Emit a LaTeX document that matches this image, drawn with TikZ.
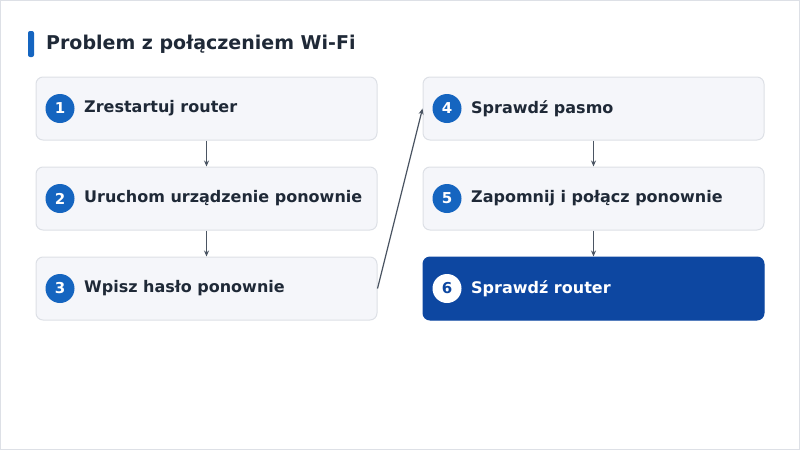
\documentclass[tikz,border=0pt]{standalone}
\usepackage{fontspec}
\setmainfont{DejaVu Sans}
\usetikzlibrary{arrows.meta}
\definecolor{boxfill}{HTML}{F5F6FA}
\definecolor{boxline}{HTML}{DDE0E6}
\definecolor{accent}{HTML}{1565C0}
\definecolor{dark}{HTML}{0D47A1}
\definecolor{txt}{HTML}{1F2937}
\definecolor{arr}{HTML}{4B5563}
\begin{document}
\begin{tikzpicture}[x=1pt,y=-1pt,
  box/.style={draw=boxline,fill=boxfill,rounded corners=7pt,line width=1pt,minimum width=341pt,minimum height=63pt,inner sep=0pt},
  num/.style={circle,fill=accent,text=white,minimum size=29pt,inner sep=0pt,font=\bfseries\fontsize{15}{18}\selectfont},
  lbl/.style={anchor=west,text=txt,font=\bfseries\fontsize{16}{19}\selectfont,inner sep=0pt},
  con/.style={draw=arr,line width=1.2pt,-{Stealth[length=6pt,width=5pt]}}]
\useasboundingbox (0,0) rectangle (800,450);
\draw[boxline,line width=1pt] (0.5,0.5) rectangle (799.5,449.5);
\fill[accent,rounded corners=2pt] (28,31) rectangle (34,57);
\node[anchor=west,inner sep=0pt,text=txt,font=\bfseries\fontsize{19}{22}\selectfont] (title) at (46,44) {Problem z połączeniem Wi-Fi};
\node[box] (b1) at (206.5,108.5) {};
\node[box] (b2) at (206.5,198.5) {};
\node[box] (b3) at (206.5,288.5) {};
\node[box] (b4) at (593.5,108.5) {};
\node[box] (b5) at (593.5,198.5) {};
\node[box,fill=dark,draw=dark] (b6) at (593.5,288.5) {};
\node[num] (n1) at (60,108.5) {1};
\node[num] (n2) at (60,198.5) {2};
\node[num] (n3) at (60,288.5) {3};
\node[num] (n4) at (447,108.5) {4};
\node[num] (n5) at (447,198.5) {5};
\node[num,fill=white,text=dark] (n6) at (447,288.5) {6};
\node[lbl] (t1) at (84,108.5) {Zrestartuj router};
\node[lbl] (t2) at (84,198.5) {Uruchom urządzenie ponownie};
\node[lbl] (t3) at (84,288.5) {Wpisz hasło ponownie};
\node[lbl] (t4) at (471,108.5) {Sprawdź pasmo};
\node[lbl] (t5) at (471,198.5) {Zapomnij i połącz ponownie};
\node[lbl,text=white] (t6) at (471,288.5) {Sprawdź router};
\draw[con] (b1.south) -- (b2.north);
\draw[con] (b2.south) -- (b3.north);
\draw[con] (b3.east) -- (b4.west);
\draw[con] (b4.south) -- (b5.north);
\draw[con] (b5.south) -- (b6.north);
\end{tikzpicture}
\end{document}
